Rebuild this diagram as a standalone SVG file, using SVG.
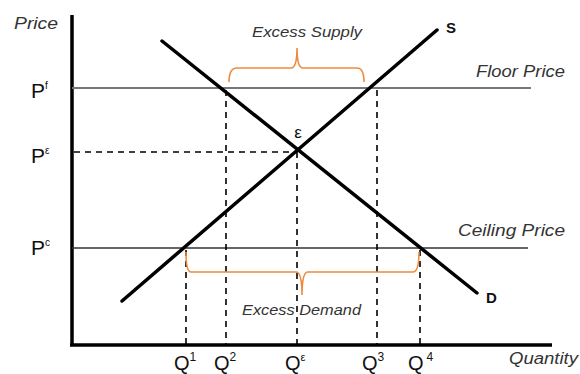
<svg xmlns="http://www.w3.org/2000/svg" width="580" height="374" viewBox="0 0 580 374">
<style>
.ax{stroke:#000;stroke-width:3.5;fill:none}
.cv{stroke:#000;stroke-width:3.5;fill:none;stroke-linecap:round}
.ds{stroke:#000;stroke-width:1.6;stroke-dasharray:6,5;fill:none}
.br{stroke:#EE8A3C;stroke-width:1.6;fill:none}
.lab{font-family:"Liberation Sans",Arial,sans-serif;fill:#111}
.it{font-family:"Liberation Sans",Arial,sans-serif;font-style:italic;fill:#333}
.bd{font-family:"Liberation Sans",Arial,sans-serif;font-weight:bold;fill:#111}
</style>
<rect width="580" height="374" fill="#fff"/>
<g id="axes">
<line class="ax" x1="72" y1="15" x2="72" y2="345"/>
<line class="ax" x1="70" y1="345" x2="552" y2="345"/>
<text class="it" x="14" y="29" font-size="16" textLength="44" lengthAdjust="spacingAndGlyphs">Price</text>
<text class="it" x="509" y="364" font-size="16" textLength="69" lengthAdjust="spacingAndGlyphs">Quantity</text>
</g>
<g id="connectors">
<line x1="72" y1="88" x2="531" y2="88" stroke="#777" stroke-width="2.2"/>
<line x1="72" y1="248" x2="528" y2="248" stroke="#333" stroke-width="1.5"/>
<line class="ds" x1="74" y1="152" x2="297" y2="152"/>
<line class="ds" x1="186" y1="250" x2="186" y2="345"/>
<line class="ds" x1="226" y1="90" x2="226" y2="345"/>
<line class="ds" x1="297" y1="152" x2="297" y2="345"/>
<line class="ds" x1="377" y1="90" x2="377" y2="345"/>
<line class="ds" x1="420" y1="250" x2="420" y2="345"/>
<path class="br" d="M229,82 Q229,68 237,68 L291,68 Q297,68 297,48 Q297,68 303,68 L357,68 Q364,68 364,82"/>
<path class="br" d="M186,252 Q186,272 191,272 L296,272 Q302,272 302,295 Q302,272 308,272 L413,272 Q419,272 419,252"/>
</g>
<g id="supply">
<line class="cv" x1="122" y1="301" x2="437" y2="30"/>
<text class="bd" x="446" y="33" font-size="15">S</text>
</g>
<g id="demand">
<line class="cv" x1="162" y1="41" x2="477" y2="293"/>
<text class="bd" x="486" y="303" font-size="15">D</text>
</g>
<g id="equilibrium">
<text class="lab" x="298" y="138" font-size="17" text-anchor="middle">ε</text>
</g>
<g id="price-labels">
<text class="lab" x="31" y="98" font-size="21">P<tspan font-size="10" dy="-9">f</tspan></text>
<text class="lab" x="31" y="163" font-size="21">P<tspan font-size="10" dy="-9">ε</tspan></text>
<text class="lab" x="31" y="255" font-size="21">P<tspan font-size="10" dy="-9">c</tspan></text>
<text class="it" x="476" y="77" font-size="16" textLength="89" lengthAdjust="spacingAndGlyphs">Floor Price</text>
<text class="it" x="458" y="236" font-size="16" textLength="107" lengthAdjust="spacingAndGlyphs">Ceiling Price</text>
</g>
<g id="excess">
<text class="it" x="252" y="37" font-size="14" fill="#555" textLength="110" lengthAdjust="spacingAndGlyphs">Excess Supply</text>
<text class="it" x="242" y="315" font-size="14" fill="#555" textLength="119" lengthAdjust="spacingAndGlyphs">Excess Demand</text>
</g>
<g id="quantity-labels">
<text class="lab" x="174" y="370" font-size="20">Q<tspan font-size="12" dy="-9">1</tspan></text>
<text class="lab" x="214" y="370" font-size="20">Q<tspan font-size="12" dy="-9">2</tspan></text>
<text class="lab" x="285" y="370" font-size="20">Q<tspan font-size="11" dy="-9">ε</tspan></text>
<text class="lab" x="362" y="370" font-size="20">Q<tspan font-size="12" dy="-9">3</tspan></text>
<text class="lab" x="408" y="370" font-size="20">Q<tspan font-size="12" dx="3" dy="-9">4</tspan></text>
</g>
</svg>
